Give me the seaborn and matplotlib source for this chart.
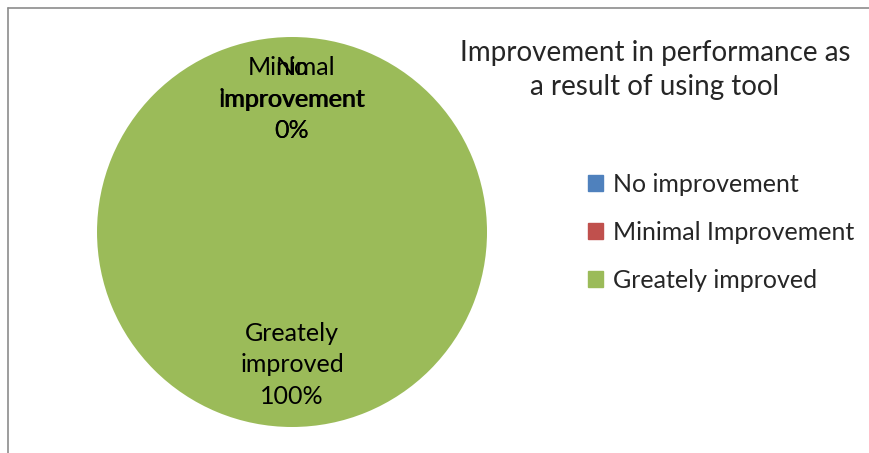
import matplotlib
matplotlib.use("Agg")
import matplotlib.pyplot as plt
import matplotlib.patches as mpatches
import matplotlib.lines as mlines
import seaborn as sns

# data
categories = ["No improvement", "Minimal Improvement", "Greately improved"]
values = [0, 0, 100]
colors = ["#4F81BD", "#C0504D", "#9BBB59"]
title = "Improvement in performance as\na result of using tool"

sns.set_theme(style="white")
plt.rcParams['font.family'] = ['Lato', 'DejaVu Sans']

fig = plt.figure(figsize=(8.7, 4.53), dpi=100)

# chart border: only top and left edges visible
y_top = 1 - 8 / 453
x_left = 8 / 870
fig.lines.append(mlines.Line2D([x_left, 1.0], [y_top, y_top], transform=fig.transFigure,
                               color="#8c8c8c", linewidth=1.2))
fig.lines.append(mlines.Line2D([x_left, x_left], [0.0, y_top], transform=fig.transFigure,
                               color="#8c8c8c", linewidth=1.2))

ax = fig.add_axes([0.1115, 0.0574, 0.4483, 0.8609])
pal = sns.color_palette(colors)

total = sum(values)
labels = []
for c, v in zip(categories, values):
    name = c.replace(" ", "\n", 1)
    labels.append(f"{name}\n{round(100 * v / total)}%")

wedges, texts = ax.pie(values, colors=pal, startangle=90, counterclock=False,
                       labels=labels, labeldistance=0.68,
                       wedgeprops=dict(linewidth=0))
for t in texts:
    t.set_ha("center")
    t.set_va("center")
    t.set_multialignment("center")
    t.set_fontsize(18)
    t.set_linespacing(1.45)
    t.set_color("black")
ax.set_xlim(-1, 1)
ax.set_ylim(-1, 1)
ax.set_aspect("equal")

fig.text(655 / 870, 1 - 70 / 453, title, ha="center", va="center",
         fontsize=20, linespacing=1.4)

handles = [mpatches.Patch(color=col, label=lab) for col, lab in zip(pal, categories)]
fig.legend(handles=handles, loc="upper left", bbox_to_anchor=(588 / 870, 1 - 173 / 453),
           frameon=False, fontsize=18, handlelength=0.6, handleheight=0.6,
           handletextpad=0.4, labelspacing=1.0, borderaxespad=0, borderpad=0)

fig.savefig("out.png", dpi=100)
